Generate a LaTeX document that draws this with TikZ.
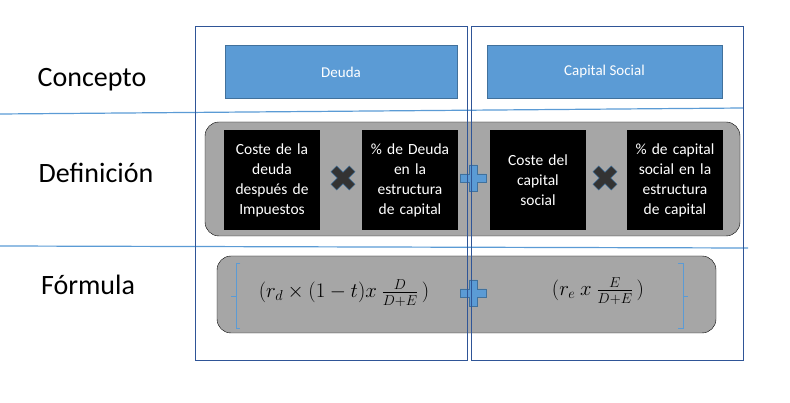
\documentclass[tikz,border=0pt]{standalone}
\usepackage{fontspec}
\setmainfont{Carlito}
\usepackage{amsmath}
\definecolor{cfblue}{RGB}{91,155,213}
\definecolor{cfdark}{RGB}{65,113,156}
\definecolor{cfcol}{RGB}{47,85,151}
\definecolor{cfgray}{RGB}{166,166,166}
\definecolor{cfmult}{RGB}{51,51,51}
\usetikzlibrary{positioning}

\tikzset{
  rowlabel/.style={font=\fontsize{28}{30}\selectfont},
  conceptbox/.style={fill=cfblue,draw=cfdark,thin,text=white,minimum width=232pt,minimum height=53pt,font=\fontsize{15}{17}\selectfont},
  blackbox/.style={fill=black,text=white,minimum width=96pt,minimum height=100pt,text width=94pt,inner sep=0pt,align=center,font=\fontsize{15.5}{20}\selectfont},
  graypanel/.style={fill=cfgray,rounded corners=14pt},
  bracketline/.style={cfblue,line width=0.8pt},
  mathtext/.style={font=\fontsize{21}{24}\selectfont},
}

% signs between the boxes
\newcommand{\plusmark}[2]{%
  \filldraw[fill=cfblue,draw=cfdark,line width=0.7pt,shift={(#1,#2)}]
    (-4,-13) -- (4,-13) -- (4,-4) -- (13,-4) -- (13,4) -- (4,4) -- (4,13)
    -- (-4,13) -- (-4,4) -- (-13,4) -- (-13,-4) -- (-4,-4) -- cycle;}
\newcommand{\multmark}[2]{%
  \filldraw[fill=cfmult,draw=cfdark,line width=0.5pt,shift={(#1,#2)},rotate=45]
    (-4,-13) -- (4,-13) -- (4,-4) -- (13,-4) -- (13,4) -- (4,4) -- (4,13)
    -- (-4,13) -- (-4,4) -- (-13,4) -- (-13,-4) -- (-4,-4) -- cycle;}

\begin{document}
\begin{tikzpicture}[x=1pt,y=-1pt]
\useasboundingbox (0,0) rectangle (790,403);

% row separators
\draw[cfblue,line width=1.2pt] (0,114) -- (743,108);
\draw[cfblue,line width=1.2pt] (0,246) -- (748,248);

% row labels
\node[rowlabel] (concepto) at (92,80) {Concepto};
\node[rowlabel] (definicion) at (96,173) {Definición};
\node[rowlabel] (formula) at (88,285) {Fórmula};

% concept boxes
\node[conceptbox] (deuda) at (341,72) {Deuda};
\node[conceptbox,minimum width=235pt] (capital) at (604.5,72) {Capital Social};

% definition panel
\draw[graypanel] (205,122) rectangle (740,236);
\node[blackbox] (costedeuda) at (272,180) {Coste de la\\deuda\\después de\\Impuestos};
\node[blackbox] (pctdeuda) at (410,180) {\% de Deuda\\en la\\estructura\\de capital};
\node[blackbox] (costecap) at (538,180) {Coste del\\capital\\social};
\node[blackbox] (pctcap) at (675,180) {\% de capital\\social en la\\estructura\\de capital};
\multmark{343}{178}
\plusmark{473}{178}
\multmark{605}{178}

% formula panel
\draw[graypanel] (217,256) rectangle (716,333);
\draw[bracketline] (240,263) -- (236,263) -- (236,328) -- (240,328);
\draw[bracketline] (236,296) -- (231,296);
\draw[bracketline] (678,263) -- (683,263) -- (683,328) -- (678,328);
\draw[bracketline] (683,296) -- (688,296);
\node[mathtext] (fdeuda) at (344,293)
  {$(r_d \times (1-t)x\ \frac{D}{D+E}\,)$};
\node[mathtext] (fcap) at (598,291)
  {$(r_e\ x\ \frac{E}{D+E}\,)$};
\plusmark{473}{293}

% columns
\draw[cfcol,thin] (195,26) rectangle (467,360);
\draw[cfcol,thin] (471,26) rectangle (743,360);
\end{tikzpicture}
\end{document}
